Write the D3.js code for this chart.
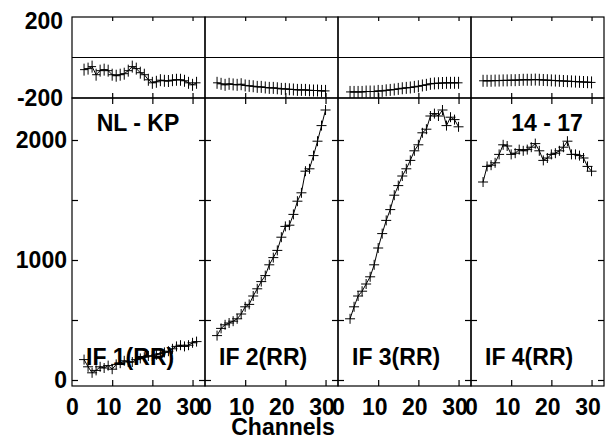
<!DOCTYPE html>
<html><head><meta charset="utf-8">
<script src="https://cdn.jsdelivr.net/npm/d3@7"></script>
<style>
html,body{margin:0;padding:0;background:#fff;}
text{font-family:"Liberation Sans",Arial,Helvetica,sans-serif;font-weight:bold;fill:#000;}
</style></head>
<body>
<svg id="chart" width="607" height="440"></svg>
<script>
// ---- data ----
const channels1 = [3,4,5,6,7,8,9,10,11,12,13,14,15,16,17,18,19,20,21,22,23,24,25,26,27,28,29,30,31];
const channels  = [3,4,5,6,7,8,9,10,11,12,13,14,15,16,17,18,19,20,21,22,23,24,25,26,27,28,29,30];
const panelLabels = ["IF 1(RR)","IF 2(RR)","IF 3(RR)","IF 4(RR)"];
const titleLeft = "NL - KP";
const titleRight = "14 - 17";
const if1 = [170,110,60,80,110,100,120,90,130,140,160,150,150,170,180,190,200,200,210,220,230,240,260,280,290,280,290,310,320];
const if2 = [370,430,460,475,490,510,550,610,630,700,760,820,870,960,1020,1080,1190,1280,1290,1380,1490,1560,1740,1760,1870,1990,2120,2250];
const if3 = [510,610,700,740,800,860,960,1100,1220,1330,1420,1540,1620,1700,1760,1830,1910,1960,2060,2090,2200,2220,2200,2250,2120,2190,2170,2110];
const if4 = [1650,1780,1790,1810,1880,1960,1950,1880,1890,1920,1910,1920,1940,1970,1910,1830,1850,1880,1890,1910,1940,1990,1880,1880,1870,1850,1780,1740];
const res1 = [-60,-55,-45,-85,-65,-60,-65,-85,-90,-85,-80,-65,-45,-55,-75,-85,-110,-125,-120,-112,-115,-116,-112,-110,-110,-115,-125,-135,-125];
const res2 = [-125,-130,-135,-130,-133,-135,-132,-138,-140,-142,-145,-145,-148,-150,-150,-152,-155,-155,-157,-158,-160,-160,-160,-162,-163,-163,-165,-165];
const res3 = [-170,-170,-170,-170,-168,-168,-168,-165,-165,-162,-160,-158,-155,-152,-150,-148,-145,-142,-138,-135,-130,-128,-127,-126,-125,-125,-125,-125];
const res4 = [-115,-115,-115,-114,-114,-113,-113,-112,-112,-111,-110,-110,-110,-109,-110,-111,-112,-113,-114,-115,-116,-117,-118,-119,-120,-121,-122,-123];
const xTicks = [0,10,20,30];
const yMainTicks = [0,500,1000,1500,2000];
const yMainLabels = [0,1000,2000];
const yResLabels = [200,-200];
const xTitle = "Channels";

// ---- layout ----
const L = 72, R = 604, W = (R - L) / 4;
const topY0 = 17, topY1 = 98, botY1 = 386;
const FS = 23;
const svg = d3.select("#chart");

const yRes = d3.scaleLinear().domain([-200, 200]).range([topY1, topY0]);
const yMain = d3.scaleLinear().domain([-50, 2350]).range([botY1, topY1]);

const panels = [
  {ch: channels1, v: if1, r: res1},
  {ch: channels, v: if2, r: res2},
  {ch: channels, v: if3, r: res3},
  {ch: channels, v: if4, r: res4}
];

function plus(g, pts, hw, hh) {
  g.selectAll(null).data(pts).enter().append("path")
    .attr("d", d => `M${d[0]-hw},${d[1]}H${d[0]+hw}M${d[0]},${d[1]-hh}V${d[1]+hh}`)
    .attr("stroke", "#000").attr("stroke-width", 1).attr("fill", "none");
}

panels.forEach((p, i) => {
  const x0 = L + i * W;
  const x = d3.scaleLinear().domain([0, 33.1]).range([x0, x0 + W]);
  const g = svg.append("g");

  const styleAxis = a => { a.select(".domain").remove(); a.selectAll("line").attr("stroke", "#000").attr("stroke-width", 1.2); a.selectAll("text").remove(); };
  g.append("g").attr("transform", `translate(0,${topY0})`).call(d3.axisBottom(x).tickValues([10,20,30]).tickSize(4).tickSizeOuter(0)).call(styleAxis);
  g.append("g").attr("transform", `translate(0,${topY1})`).call(d3.axisTop(x).tickValues([10,20,30]).tickSize(5).tickSizeOuter(0)).call(styleAxis);
  g.append("g").attr("transform", `translate(0,${topY1})`).call(d3.axisBottom(x).tickValues([10,20,30]).tickSize(6).tickSizeOuter(0)).call(styleAxis);
  g.append("g").attr("transform", `translate(0,${botY1})`).call(d3.axisTop(x).tickValues([10,20,30]).tickSize(6).tickSizeOuter(0)).call(styleAxis);
  g.append("g").attr("transform", `translate(${x0},0)`).call(d3.axisRight(yMain).tickValues(yMainTicks).tickSize(6).tickSizeOuter(0)).call(styleAxis);
  g.append("g").attr("transform", `translate(${x0 + W},0)`).call(d3.axisLeft(yMain).tickValues(yMainTicks).tickSize(6).tickSizeOuter(0)).call(styleAxis);

  g.append("line").attr("x1", x0).attr("x2", x0 + W).attr("y1", yRes(0)).attr("y2", yRes(0))
    .attr("stroke", "#000").attr("stroke-width", 1.2);

  g.append("rect").attr("x", x0).attr("y", topY0).attr("width", W).attr("height", topY1 - topY0)
    .attr("fill", "none").attr("stroke", "#000").attr("stroke-width", 1.2);
  g.append("rect").attr("x", x0).attr("y", topY1).attr("width", W).attr("height", botY1 - topY1)
    .attr("fill", "none").attr("stroke", "#000").attr("stroke-width", 1.2);

  const rpts = p.ch.map((c, k) => [x(c), yRes(p.r[k])]);
  g.append("path").attr("d", d3.line()(rpts)).attr("fill", "none").attr("stroke", "#000").attr("stroke-width", 1);
  plus(g, rpts, 4, 6);

  const mpts = p.ch.map((c, k) => [x(c), yMain(p.v[k])]);
  g.append("path").attr("d", d3.line()(mpts)).attr("fill", "none").attr("stroke", "#000").attr("stroke-width", 1);
  plus(g, mpts, 5, 5);

  g.append("text").attr("x", x0 + 14).attr("y", 365).attr("font-size", FS).text(panelLabels[i]);

  xTicks.forEach(t => {
    g.append("text").attr("x", x(t) - (t === 0 ? -0.5 : 3.5)).attr("y", 415)
      .attr("text-anchor", "middle").attr("font-size", FS).text(t);
  });
});

svg.append("text").attr("x", 138).attr("y", 131).attr("text-anchor", "middle").attr("font-size", FS).text(titleLeft);
svg.append("text").attr("x", 547).attr("y", 131).attr("text-anchor", "middle").attr("font-size", FS).text(titleRight);

yMainLabels.forEach(t => {
  svg.append("text").attr("x", 67).attr("y", yMain(t) + 8).attr("text-anchor", "end").attr("font-size", FS).text(t);
});
yResLabels.forEach(t => {
  svg.append("text").attr("x", 63).attr("y", yRes(t) + (t > 0 ? 12 : 8)).attr("text-anchor", "end").attr("font-size", FS).text(t);
});

svg.append("text").attr("x", 283).attr("y", 435).attr("text-anchor", "middle").attr("font-size", FS).text(xTitle);
</script>
</body></html>
